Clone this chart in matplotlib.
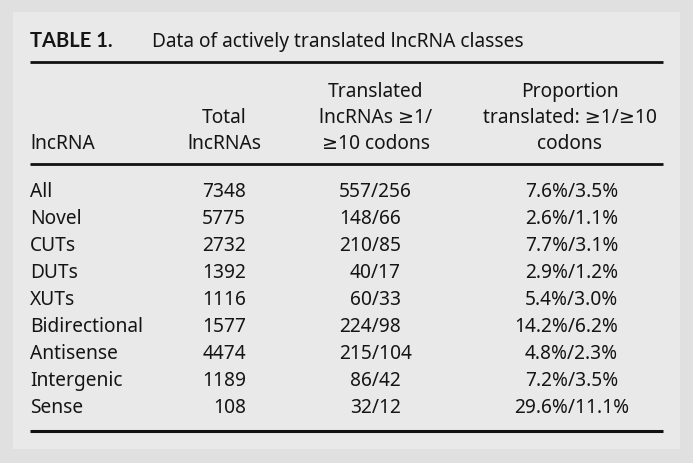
import matplotlib.pyplot as plt
from matplotlib.patches import Rectangle

plt.rcParams['font.family'] = ['Noto Sans', 'DejaVu Sans']

classes = ['All', 'Novel', 'CUTs', 'DUTs', 'XUTs', 'Bidirectional',
           'Antisense', 'Intergenic', 'Sense']
totals = [7348, 5775, 2732, 1392, 1116, 1577, 4474, 1189, 108]
trans_1 = [557, 148, 210, 40, 60, 224, 215, 86, 32]
trans_10 = [256, 66, 85, 17, 33, 98, 104, 42, 12]
pct_1 = [7.6, 2.6, 7.7, 2.9, 5.4, 14.2, 4.8, 7.2, 29.6]
pct_10 = [3.5, 1.1, 3.1, 1.2, 3.0, 6.2, 2.3, 3.5, 11.1]

headers = [
    ['', '', 'Translated', 'Proportion'],
    ['', 'Total', 'lncRNAs \u22651/', 'translated: \u22651/\u226510'],
    ['lncRNA', 'lncRNAs', '\u226510 codons', 'codons'],
]

W, H = 693, 464
fig = plt.figure(figsize=(W / 100, H / 100), dpi=100)
fig.patch.set_facecolor('#e0e0e0')
ax = fig.add_axes([0, 0, 1, 1])
ax.set_xlim(0, W)
ax.set_ylim(H, 0)
ax.axis('off')

ax.add_patch(Rectangle((13, 13), 667, 437, facecolor='#e9e9e9', edgecolor='none'))

fs = 13.8
tc = '#151515'
renderer = fig.canvas.get_renderer()


def px_width(s):
    t = ax.text(0, 0, s, fontsize=fs)
    w = t.get_window_extent(renderer).width
    t.remove()
    return w


def slash_text(x, y, left, right):
    # place full string so the slash sits at x
    w = px_width(left)
    ax.text(x - w, y, left + '/' + right, fontsize=fs, color=tc, va='baseline')


# title
ax.text(30, 47, 'TABLE 1.', fontsize=14.5, fontweight='bold', color=tc,
        va='baseline', family=['Lato', 'DejaVu Sans'])
ax.text(152, 47, 'Data of actively translated lncRNA classes', fontsize=fs,
        color=tc, va='baseline')

# rules
for y, lw in [(63, 2.0), (165, 2.0), (432, 2.2)]:
    ax.plot([30, 663], [y, y], color='#111111', lw=lw, solid_capstyle='butt')

# header
hx = [30, 224, 376, 570]
for i, row in enumerate(headers):
    yb = 97 + 26 * i
    for j, s in enumerate(row):
        if not s:
            continue
        ax.text(hx[j], yb, s, fontsize=fs, color=tc, va='baseline',
                ha='left' if j == 0 else 'center')

# body
for i, name in enumerate(classes):
    yb = 197 + 27 * i
    ax.text(30, yb, name, fontsize=fs, color=tc, va='baseline')
    ax.text(246, yb, str(totals[i]), fontsize=fs, color=tc, va='baseline', ha='right')
    slash_text(372, yb, str(trans_1[i]), str(trans_10[i]))
    slash_text(568, yb, f'{pct_1[i]:.1f}%', f'{pct_10[i]:.1f}%')

fig.savefig('out.png', dpi=100, facecolor=fig.get_facecolor())
